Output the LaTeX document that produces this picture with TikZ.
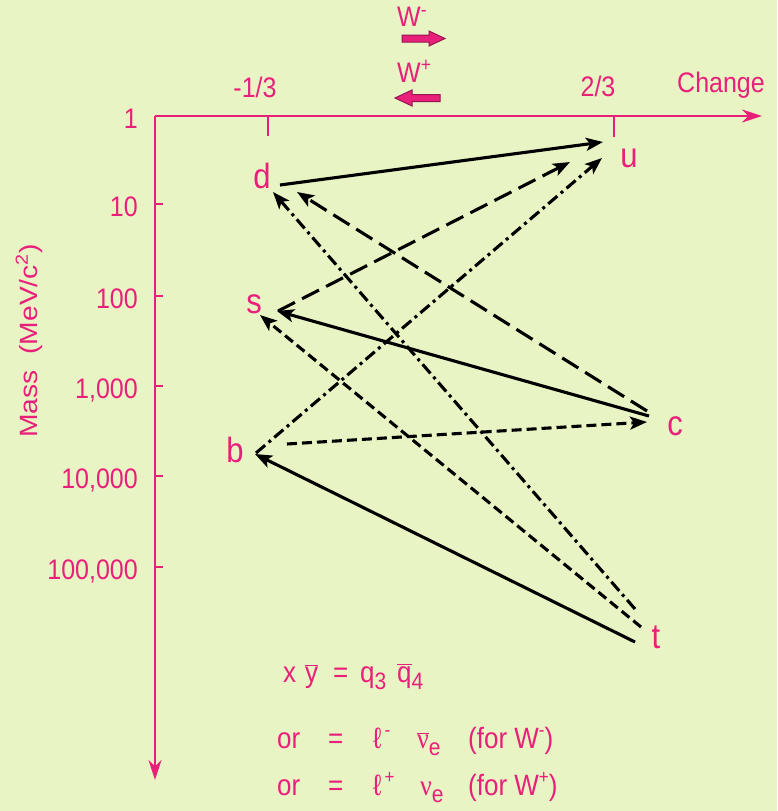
\documentclass[tikz,border=0pt]{standalone}
\usepackage{fontspec}
\setmainfont{Liberation Sans}
\newfontfamily\serifgr{Liberation Serif}
\usetikzlibrary{arrows.meta}
\definecolor{bg}{RGB}{232,244,196}
\definecolor{pk}{RGB}{232,32,122}
\definecolor{pkdark}{RGB}{150,20,80}
\newcommand\vs[1]{\scalebox{1}[1.13]{#1}}
\newcommand\hs[1]{\scalebox{1.13}[1]{#1}}
\newcommand\subl[1]{\raisebox{-7pt}{\fontsize{21}{21}\selectfont #1}}
\newcommand\supl[1]{\raisebox{10pt}{\fontsize{17}{17}\selectfont #1}}
\begin{document}
\begin{tikzpicture}[x=1pt,y=-1pt,
  lab/.style={text=pk, font=\fontsize{25}{28}\selectfont, inner sep=0pt},
  eqtxt/.style={text=pk, font=\fontsize{26}{28}\selectfont, inner sep=0pt, anchor=base west},
  quark/.style={text=pk, font=\fontsize{31}{33}\selectfont, inner sep=0pt, anchor=base},
  axis/.style={draw=pk, line width=2.4pt},
  tick/.style={draw=pk, line width=1.6pt},
  conn/.style={line width=3.1pt, -{Stealth[length=17pt,width=13pt,inset=4pt]}},
  longdash/.style={dash pattern=on 19pt off 8pt},
  shortdash/.style={dash pattern=on 10pt off 5pt},
  dashdotline/.style={dash pattern=on 12pt off 4.5pt on 3pt off 4.5pt},
  blockarrow/.style={fill=pk, draw=pkdark, line width=1pt, line join=miter}
]
\useasboundingbox (0,0) rectangle (777,811);
\fill[bg] (0,0) rectangle (777,811);

% axes
\coordinate (O) at (155,116);
\coordinate (XE) at (762,116);
\coordinate (YE) at (155,780);
\draw[axis, -{Stealth[length=20pt,width=13pt,fill=pk]}] (O) -- (XE);
\draw[axis, -{Stealth[length=20pt,width=13pt,fill=pk]}] (O) -- (YE);

% y ticks and labels
\foreach \yy/\tx [count=\i] in {116/1, 204/10, 296/100, 386/{1,000}, 476/{10,000}, 567/{100,000}}{
  \draw[tick] (155,\yy) -- (163,\yy);
  \node[lab, anchor=base east] (ylab\i) at (138,\yy+12) {\vs{\tx}};
}
% x ticks
\draw[tick] (268,116) -- (268,136);
\draw[tick] (614,116) -- (614,137);
\node[lab, anchor=base] (xm) at (255,97) {\vs{-1/3}};
\node[lab, anchor=base] (xp) at (598,96) {\vs{2/3}};
\node[lab, anchor=base] (chg) at (721,92) {\vs{Change}};

% y axis title
\node[lab, rotate=90, anchor=base west] (mass) at (37,438) {\hs{Mass\ \ (MeV/c\textsuperscript{2})}};

% W arrows
\node[lab, anchor=base west] (wm) at (397,27) {\vs{W\textsuperscript{-}}};
\node[lab, anchor=base west] (wp) at (397,82) {\vs{W\textsuperscript{+}}};
\draw[blockarrow] (402,35) -- (429,35) -- (429,31) -- (445,38.5) -- (429,46) -- (429,42) -- (402,42) -- cycle;
\draw[blockarrow] (440,94.5) -- (412,94.5) -- (412,90) -- (395,98) -- (412,106) -- (412,101.5) -- (440,101.5) -- cycle;

% quark labels
\node[quark] (d) at (262,188) {\vs{d}};
\node[quark] (u) at (629,167) {\vs{u}};
\node[quark] (s) at (254,313) {\vs{s}};
\node[quark] (c) at (675,435) {\vs{c}};
\node[quark] (b) at (235,462) {\vs{b}};
\node[quark] (t) at (656,648) {\vs{t}};

% connector ports
\coordinate (dU) at (280,185);
\coordinate (dC) at (297,192);
\coordinate (dT) at (273,192);
\coordinate (uD) at (603,142);
\coordinate (uS) at (570,162);
\coordinate (uB) at (602,158);
\coordinate (sU) at (278,311);
\coordinate (sC) at (277,311);
\coordinate (sT) at (260,315);
\coordinate (cD) at (647,411);
\coordinate (cS) at (649,416);
\coordinate (cB) at (647,422);
\coordinate (bU) at (256,453);
\coordinate (bC) at (287,444);
\coordinate (bT) at (255,454);
\coordinate (tD) at (635,609);
\coordinate (tS) at (641,627);
\coordinate (tB) at (635,642);

% connectors
\draw[conn] (dU) -- (uD);
\draw[conn, longdash] (sU) -- (uS);
\draw[conn, dashdotline] (bU) -- (uB);
\draw[conn, longdash] (cD) -- (dC);
\draw[conn, dashdotline] (tD) -- (dT);
\draw[conn] (cS) -- (sC);
\draw[conn, shortdash] (tS) -- (sT);
\draw[conn, shortdash] (bC) -- (cB);
\draw[conn] (tB) -- (bT);

% formula lines
\node[eqtxt] (e1) at (283,682) {\vs{x}};
\node[eqtxt] (e2) at (305,682) {\vs{$\overline{\hbox{y}}$}};
\node[eqtxt] (e3) at (333,682) {\vs{=}};
\node[eqtxt] (e4) at (360,682) {\vs{q\subl{3}}};
\node[eqtxt] (e5) at (397,682) {\vs{$\overline{\hbox{q}}$\subl{4}}};

\node[eqtxt] (f1) at (277,748) {\vs{or}};
\node[eqtxt] (f2) at (328,748) {\vs{=}};
\node[eqtxt] (f3) at (373,748) {\vs{ℓ\hspace{3pt}\supl{-}}};
\node[eqtxt] (f4) at (417,748) {\vs{{\serifgr$\overline{\hbox{\serifgr ν}}$}\subl{e}}};
\node[eqtxt] (f5) at (468,748) {\vs{(for W\supl{-})}};

\node[eqtxt] (g1) at (277,795) {\vs{or}};
\node[eqtxt] (g2) at (328,795) {\vs{=}};
\node[eqtxt] (g3) at (373,795) {\vs{ℓ\hspace{3pt}\supl{+}}};
\node[eqtxt] (g4) at (420,795) {\vs{{\serifgr ν}\subl{e}}};
\node[eqtxt] (g5) at (468,795) {\vs{(for W\supl{+})}};
\end{tikzpicture}
\end{document}
